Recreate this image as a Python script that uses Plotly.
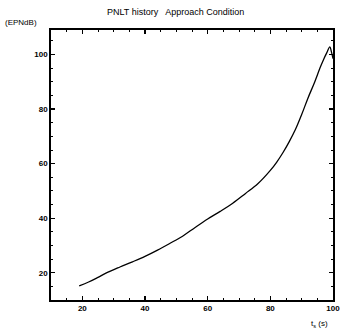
import plotly.graph_objects as go

# Data
t_s = [19, 22, 25, 28, 32, 36, 40, 44, 48, 52, 56, 60, 64, 68, 72, 76, 80,
       82, 84, 86, 88, 90, 92, 94, 96, 97, 98, 99, 99.5, 100]
pnlt = [15.2, 16.6, 18.3, 20.1, 22.1, 24.0, 26.0, 28.3, 30.8, 33.4, 36.6, 39.7,
        42.5, 45.5, 49.0, 52.6, 57.5, 60.5, 64.0, 68.0, 72.5, 78.0, 84.0, 89.5,
        95.5, 98.2, 100.6, 102.8, 101.0, 98.5]

x_ticks = [20, 40, 60, 80, 100]
y_ticks = [20, 40, 60, 80, 100]

fig = go.Figure()
fig.add_trace(go.Scatter(x=t_s, y=pnlt, mode="lines",
                         line=dict(color="black", width=1.3, shape="spline"),
                         showlegend=False, hoverinfo="skip"))

axis_common = dict(showline=True, linecolor="black", linewidth=1.8, mirror="ticks",
                   ticks="inside", ticklen=4, tickwidth=1.3, tickcolor="black",
                   showgrid=False, zeroline=False,
                   tickfont=dict(family="Liberation Sans", size=8, color="black", weight="bold"),
                   minor=dict(ticks="inside", ticklen=2, tickwidth=1, tickcolor="black", dtick=5))

fig.update_xaxes(range=[10, 100], tickvals=x_ticks, ticktext=[str(v) for v in x_ticks], **axis_common)
fig.update_yaxes(range=[10, 109], tickvals=y_ticks, ticktext=[str(v) for v in y_ticks], **axis_common)

fig.update_layout(
    width=347, height=331,
    margin=dict(l=51, r=7, t=30, b=31),
    paper_bgcolor="white", plot_bgcolor="white",
    font=dict(family="Liberation Sans", color="black"),
    annotations=[
        dict(text="PNLT history   Approach Condition", xref="paper", yref="paper",
             x=0.44, y=1.0, yshift=18, showarrow=False, xanchor="center", yanchor="middle",
             font=dict(size=9, color="black")),
        dict(text="(EPNdB)", xref="paper", yref="paper", x=0, xshift=-48, y=1.0, yshift=8,
             showarrow=False, xanchor="left", yanchor="middle",
             font=dict(size=8, color="black")),
        dict(text="t<sub>s</sub> (s)", xref="paper", yref="paper", x=1.0, xshift=-14, y=0, yshift=-24,
             showarrow=False, xanchor="center", yanchor="middle",
             font=dict(size=8, color="black")),
    ],
)

fig.write_html("out.html", config={"displayModeBar": False, "staticPlot": True},
               post_script="document.body.style.margin='0';document.body.style.overflow='hidden';")
